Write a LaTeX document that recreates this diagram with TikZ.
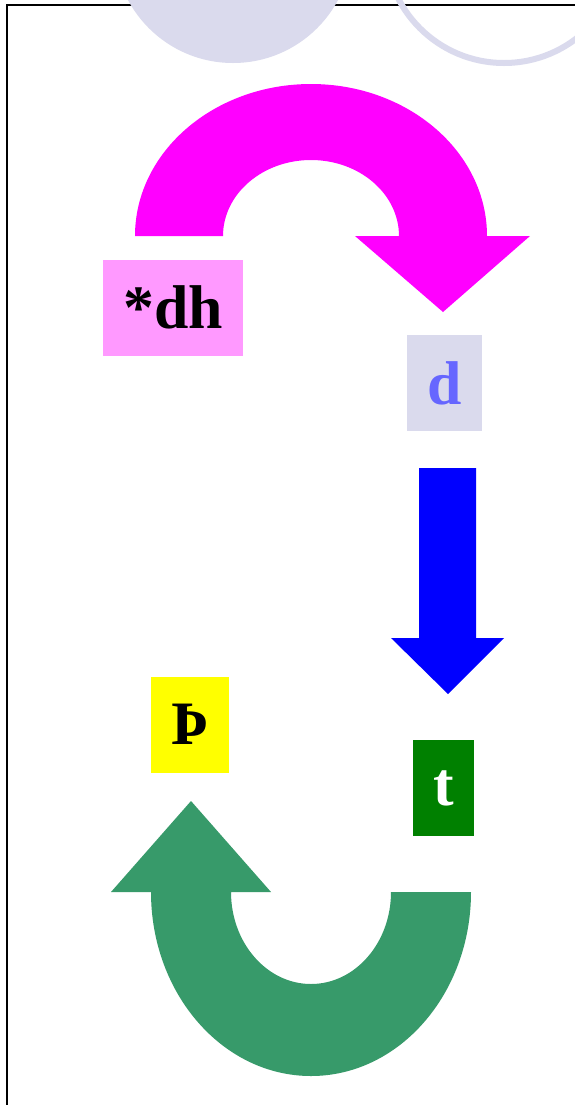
\documentclass[tikz,border=0pt]{standalone}
\usepackage{fontspec}
\setmainfont{Liberation Serif}
\definecolor{lav}{RGB}{218,218,237}
\definecolor{mag}{RGB}{255,0,255}
\definecolor{pinkbox}{RGB}{255,153,255}
\definecolor{dtext}{RGB}{102,102,255}
\definecolor{bluearrow}{RGB}{0,0,255}
\definecolor{yell}{RGB}{255,255,0}
\definecolor{greenbox}{RGB}{0,128,0}
\definecolor{greenarrow}{RGB}{55,154,106}

\begin{document}
\begin{tikzpicture}[x=1bp, y=-1bp,
    box/.style={minimum height=96bp, inner xsep=20bp, inner ysep=0pt,
      font=\bfseries\fontsize{62}{62}\selectfont}]
      \useasboundingbox (0,0) rectangle (575,1105);
      \fill[white] (0,0) rectangle (575,1105);
      \draw[line width=2bp] (6.5,1110) -- (6.5,4.5) -- (580,4.5);

      \fill[lav] (233,-56) circle[radius=119];
      \draw[lav, line width=6bp] (504,-56) circle[radius=119];

      \fill[mag] (135,236) arc[start angle=180, end angle=360, x radius=176, y radius=152]
          -- (530,236) -- (443,312) -- (355,236) -- (399,236)
          arc[start angle=360, end angle=180, x radius=88, y radius=76] -- cycle;

      \fill[bluearrow] (419,468) -- (476,468) -- (476,638) -- (504,638) -- (448,694)
          -- (391,638) -- (419,638) -- cycle;

      \fill[greenarrow] (471,892) arc[start angle=0, end angle=180, x radius=160, y radius=184]
          -- (111,892) -- (191,801) -- (271,892) -- (231,892)
          arc[start angle=180, end angle=0, x radius=80, y radius=92] -- cycle;

      \node[box, fill=pinkbox] (dh) at (173,307.5) {*dh};
      \node[box, fill=lav, text=dtext] (d) at (444.5,383) {d};
      \node[box, fill=yell] (thorn) at (190,724.5) {Þ};
      \node[box, fill=greenbox, text=white] (t) at (443.5,788) {t};
\end{tikzpicture}
\end{document}
